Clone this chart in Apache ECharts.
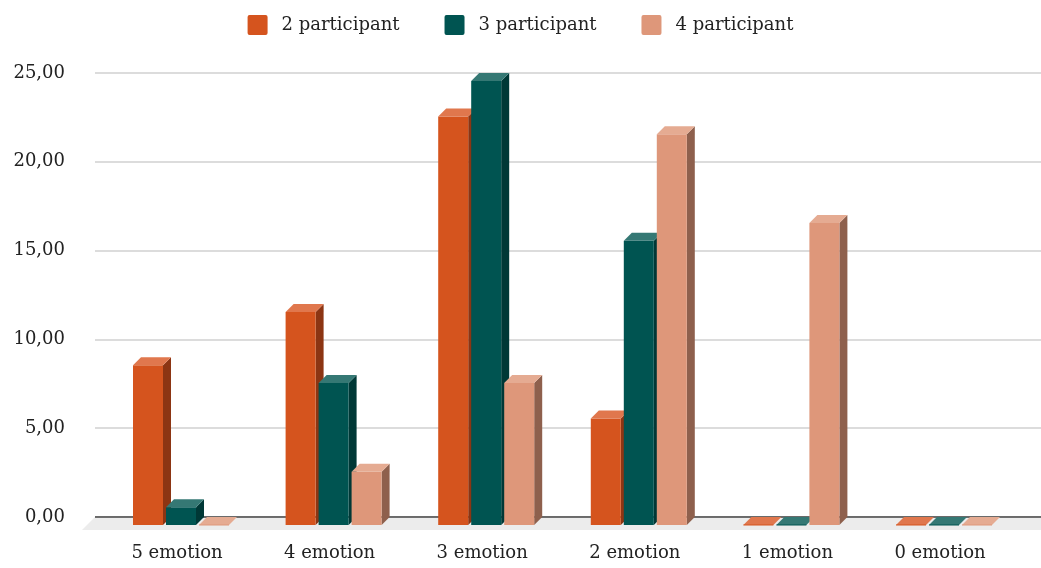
<!DOCTYPE html>
<html>
<head>
<meta charset="utf-8">
<script src="https://cdn.jsdelivr.net/npm/echarts@6/dist/echarts.min.js"></script>
<style>
html,body{margin:0;padding:0;background:#fff;}
#chart{width:1041px;height:568px;}
</style>
</head>
<body>
<div id="chart"></div>
<script>
var categories = ['5 emotion', '4 emotion', '3 emotion', '2 emotion', '1 emotion', '0 emotion'];
var seriesNames = ['2 participant', '3 participant', '4 participant'];
var values2 = [9, 12, 23, 6, 0, 0];
var values3 = [1, 8, 25, 16, 0, 0];
var values4 = [0, 3, 8, 22, 17, 0];
var yTicks = [0, 5, 10, 15, 20, 25];

var FONT = 'DejaVu Serif';
var palette = [
  {front: '#D5541E', top: '#E0774D', side: '#8C3513'},
  {front: '#005451', top: '#357874', side: '#003836'},
  {front: '#DE977A', top: '#E5AB92', side: '#8E604D'}
];
var BAR_W = 30, BAR_GAP = 3, DEPTH = 8, GROUP_SHIFT = -44;
var FLOOR_D = 13;

function barRender(sIdx) {
  return function (params, api) {
    var cat = api.value(0), val = api.value(1);
    var base = api.coord([cat, 0]);
    var topPt = api.coord([cat, val]);
    var fx = base[0] + GROUP_SHIFT + sIdx * (BAR_W + BAR_GAP);
    var yb = base[1] + DEPTH;
    var yt = topPt[1] + DEPTH;
    var c = palette[sIdx];
    var children = [];
    if (yb - yt > 0.5) {
      children.push({type: 'polygon', shape: {points: [[fx + BAR_W, yt], [fx + BAR_W + DEPTH, yt - DEPTH], [fx + BAR_W + DEPTH, yb - DEPTH], [fx + BAR_W, yb]]}, style: {fill: c.side}});
      children.push({type: 'rect', shape: {x: fx, y: yt, width: BAR_W, height: yb - yt}, style: {fill: c.front}});
    }
    children.push({type: 'polygon', shape: {points: [[fx, yt], [fx + DEPTH, yt - DEPTH], [fx + BAR_W + DEPTH, yt - DEPTH], [fx + BAR_W, yt]]}, style: {fill: c.top}});
    if (yb - yt <= 0.5) {
      children.push({type: 'line', shape: {x1: fx, y1: yt, x2: fx + BAR_W, y2: yt}, style: {stroke: c.front, lineWidth: 1}});
    }
    return {type: 'group', children: children};
  };
}

function floorRender(params, api) {
  var cs = params.coordSys;
  var yBack = cs.y + cs.height;
  var x0 = cs.x, x1 = cs.x + cs.width;
  return {
    type: 'group',
    children: [
      {type: 'polygon', shape: {points: [[x0, yBack], [x1, yBack], [x1, yBack + FLOOR_D], [x0 - FLOOR_D, yBack + FLOOR_D]]}, style: {fill: '#ececec'}},
      {type: 'line', shape: {x1: x0, y1: yBack, x2: x1, y2: yBack}, style: {stroke: '#444', lineWidth: 1.5}}
    ]
  };
}

var chart = echarts.init(document.getElementById('chart'), null, {renderer: 'canvas'});
var allValues = [values2, values3, values4];
var series = [{
  type: 'custom', name: 'floor', xAxisIndex: 0, yAxisIndex: 0, z: 1,
  data: [[0, 0]], renderItem: floorRender, silent: true
}];
allValues.forEach(function (vals, i) {
  series.push({
    type: 'custom', name: seriesNames[i], xAxisIndex: 1, yAxisIndex: 1, z: 5,
    itemStyle: {color: palette[i].front},
    data: vals.map(function (v, k) { return [k, v]; }),
    encode: {x: 0, y: 1},
    renderItem: barRender(i)
  });
});

chart.setOption({
  animation: false,
  backgroundColor: '#ffffff',
  textStyle: {fontFamily: FONT},
  legend: {
    data: seriesNames,
    top: 10, left: 'center',
    icon: 'path://M2,0 H18 A2,2 0 0 1 20,2 V18 A2,2 0 0 1 18,20 H2 A2,2 0 0 1 0,18 V2 A2,2 0 0 1 2,0 Z',
    itemWidth: 20, itemHeight: 20, itemGap: 45,
    textStyle: {fontFamily: FONT, fontSize: 18, color: '#222', padding: [0, 0, 0, 9]}
  },
  grid: [
    {left: 95, right: 0, top: 73, bottom: 51, containLabel: false},
    {left: 100.7, right: 24.7, top: 73, bottom: 51, containLabel: false}
  ],
  xAxis: [
    {type: 'value', gridIndex: 0, min: 0, max: 1, show: false},
    {type: 'category', gridIndex: 1, data: categories, boundaryGap: true,
     axisLine: {show: false}, axisTick: {show: false}, splitLine: {show: false},
     axisLabel: {fontFamily: FONT, fontSize: 18, color: '#222', margin: 27}}
  ],
  yAxis: [
    {type: 'value', gridIndex: 0, min: yTicks[0], max: yTicks[yTicks.length - 1], interval: yTicks[1] - yTicks[0],
     axisLine: {show: false}, axisTick: {show: false},
     axisLabel: {fontFamily: FONT, fontSize: 18, color: '#222', margin: 30,
       formatter: function (v) { return v.toFixed(2).replace('.', ','); }},
     splitLine: {lineStyle: {color: '#d0d0d0', width: 1.5}}},
    {type: 'value', gridIndex: 1, min: yTicks[0], max: yTicks[yTicks.length - 1], show: false, splitLine: {show: false}}
  ],
  series: series
});
</script>
</body>
</html>
